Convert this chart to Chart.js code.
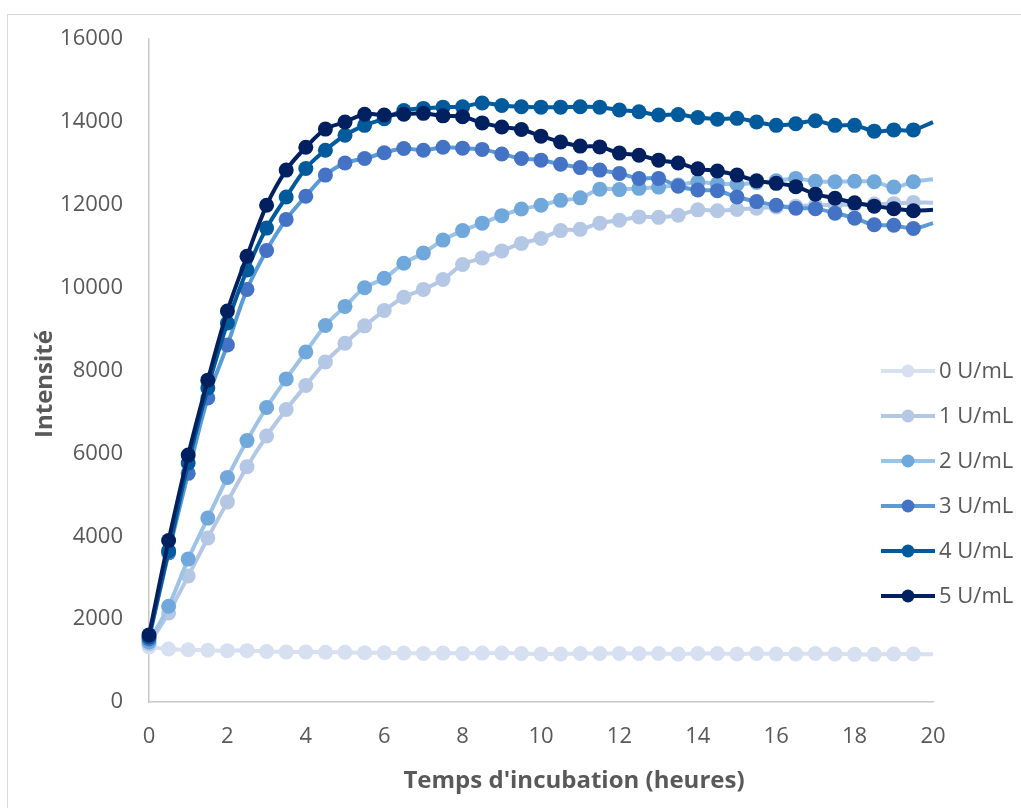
<!DOCTYPE html>
<html>
<head>
<meta charset="utf-8">
<script src="https://cdn.jsdelivr.net/npm/chart.js@4.4.1/dist/chart.umd.min.js"></script>
<style>
  html,body{margin:0;padding:0;background:#fff;}
  #wrap{width:1021px;height:808px;}
</style>
</head>
<body>
<div id="wrap"><canvas id="c" width="1021" height="808"></canvas></div>
<script>
// ===== DATA =====
const heures = [0,0.5,1,1.5,2,2.5,3,3.5,4,4.5,5,5.5,6,6.5,7,7.5,8,8.5,9,9.5,10,
  10.5,11,11.5,12,12.5,13,13.5,14,14.5,15,15.5,16,16.5,17,17.5,18,18.5,19,19.5,20];
const labels = ['0 U/mL','1 U/mL','2 U/mL','3 U/mL','4 U/mL','5 U/mL'];

const u0 = [1330,1280,1260,1250,1240,1240,1220,1210,1210,1200,1200,1190,1190,1180,1170,1180,1170,1180,1180,1170,1160,
  1160,1170,1170,1170,1170,1170,1160,1170,1170,1160,1170,1160,1160,1170,1160,1150,1150,1160,1160,1150];
const u1 = [1400,2150,3040,3960,4830,5680,6420,7060,7640,8210,8660,9080,9450,9770,9960,10200,10560,10720,10890,11070,11190,
  11380,11410,11560,11630,11710,11700,11750,11880,11860,11890,11920,11950,11970,11990,12000,12010,12020,12030,12060,12050];
const u2 = [1450,2310,3450,4440,5420,6310,7110,7800,8450,9090,9550,10000,10230,10590,10840,11150,11380,11560,11740,11900,11990,
  12110,12170,12380,12370,12400,12430,12480,12550,12510,12500,12540,12580,12640,12570,12560,12570,12560,12430,12560,12620];
const u3 = [1520,3600,5520,7340,8620,9960,10900,11650,12210,12720,13010,13120,13260,13360,13320,13390,13370,13340,13230,13120,13080,
  12980,12900,12840,12760,12640,12640,12450,12360,12340,12190,12080,11990,11920,11910,11800,11680,11520,11510,11430,11560];
const u4 = [1570,3650,5770,7580,9150,10430,11440,12190,12880,13320,13680,13920,14080,14280,14330,14360,14370,14460,14400,14370,14360,
  14360,14370,14360,14290,14250,14170,14180,14110,14070,14090,14000,13920,13960,14030,13920,13920,13780,13810,13810,14000];
const u5 = [1620,3900,5960,7770,9440,10760,11990,12840,13390,13830,14000,14190,14170,14190,14210,14150,14130,13980,13880,13820,13660,
  13520,13420,13400,13250,13200,13080,13010,12870,12820,12720,12580,12520,12440,12260,12160,12050,11970,11910,11860,11880];

const yTicks = [0,2000,4000,6000,8000,10000,12000,14000,16000];
const xTicks = [0,2,4,6,8,10,12,14,16,18,20];

// ===== STYLE =====
const lineCol = ['#d6e0f0','#b4c8e6','#9dc3e6','#5b9bd5','#005a9c','#002060'];
const dotCol  = ['#d6e0f0','#b4c8e6','#70a8dc','#4472c4','#005a9c','#002060'];
const txt = '#595959';
const FONT = '"Open Sans", "Noto Sans", sans-serif';

const series = [u0,u1,u2,u3,u4,u5];
const datasets = series.map((s,i)=>({
  label: labels[i],
  data: s.map((v,k)=>({x:heures[k], y:v})),
  borderColor: lineCol[i],
  backgroundColor: dotCol[i],
  pointBackgroundColor: dotCol[i],
  pointBorderWidth: 0,
  pointRadius: ctx => (ctx.raw && ctx.raw.x === 20) ? 0 : 7.5,
  pointHoverRadius: 7.5,
  borderWidth: 4,
  tension: 0.35,
  fill: false,
  clip: false,
  order: 5 - i
}));

// ===== PLUGINS =====
const frame = {
  id:'frame',
  beforeDraw(c){
    const g=c.ctx; g.save();
    g.fillStyle='#fff'; g.fillRect(0,0,c.width,c.height);
    g.strokeStyle='#d9d9d9'; g.lineWidth=1;
    g.strokeRect(7.5,14.5,1100,1000);
    g.restore();
  }
};
const extras = {
  id:'extras',
  afterDraw(c){
    const g=c.ctx; g.save();
    // titres des axes
    g.fillStyle=txt; g.font='bold 24px '+FONT;
    g.textAlign='center'; g.textBaseline='middle';
    g.fillText("Temps d'incubation (heures)", 574, 781);
    g.translate(45,384); g.rotate(-Math.PI/2);
    g.fillText('Intensité',0,0);
    g.restore();
    // legende
    g.save();
    c.data.datasets.forEach((d,i)=>{
      const y = 371 + i*45;
      g.strokeStyle=d.borderColor; g.lineWidth=4; g.lineCap='butt';
      g.beginPath(); g.moveTo(881,y); g.lineTo(935,y); g.stroke();
      g.fillStyle=d.pointBackgroundColor;
      g.beginPath(); g.arc(908,y,6.5,0,Math.PI*2); g.fill();
      g.fillStyle=txt; g.font='22px '+FONT;
      g.textAlign='left'; g.textBaseline='middle';
      g.fillText(d.label,939,y+1);
    });
    g.restore();
  }
};

// ===== CHART =====
new Chart(document.getElementById('c').getContext('2d'),{
  type:'line',
  data:{datasets},
  plugins:[frame,extras],
  options:{
    responsive:false, animation:false, devicePixelRatio:1,
    layout:{padding:{top:39,right:88,left:0,bottom:0}},
    plugins:{legend:{display:false},tooltip:{enabled:false}},
    scales:{
      x:{type:'linear',min:0,max:20,
        afterFit:s=>{s.height=106;},
        afterBuildTicks:s=>{s.ticks=xTicks.map(v=>({value:v}));},
        grid:{display:false,drawTicks:false},
        border:{display:true,color:'#c8c8c8',width:1.5},
        ticks:{color:txt,font:{family:FONT,size:22},padding:22,maxRotation:0,callback:v=>String(v)}},
      y:{type:'linear',min:0,max:16000,
        afterFit:s=>{s.width=149;},
        afterBuildTicks:s=>{s.ticks=yTicks.map(v=>({value:v}));},
        grid:{display:false,drawTicks:false},
        border:{display:true,color:'#c8c8c8',width:1.5},
        ticks:{color:txt,font:{family:FONT,size:22},padding:26,callback:v=>String(v)}}
    }
  }
});
</script>
</body>
</html>
